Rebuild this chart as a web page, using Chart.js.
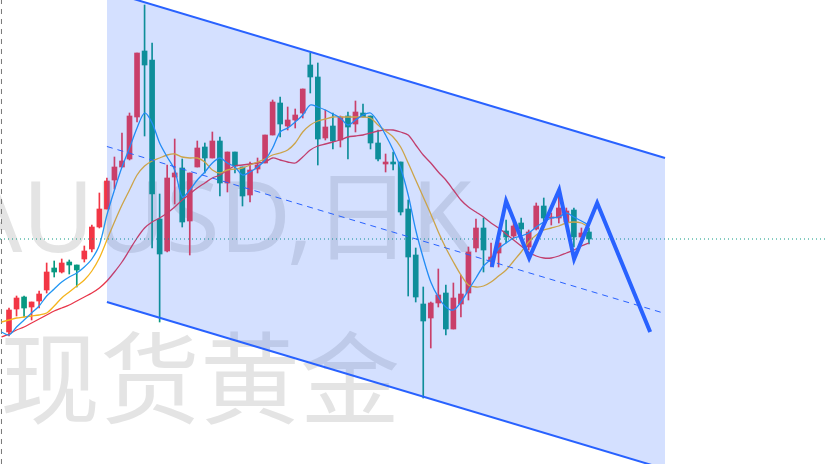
<!DOCTYPE html>
<html>
<head>
<meta charset="utf-8">
<script src="https://cdn.jsdelivr.net/npm/chart.js@4/dist/chart.umd.min.js"></script>
<style>
  html, body { margin: 0; padding: 0; background: #fff; }
  canvas { display: block; }
</style>
</head>
<body>
<canvas id="goldChart" width="825" height="464"></canvas>
<script>
// daily candles, spot gold (XAUUSD), index 0..77
const opens = [1914,1925.5,1931.5,1926.5,1929.5,1935,1946,1944,1949,1947.5,
    1950.5,1955.5,1966.5,1975.5,1990,1996.5,2000.5,2021.5,2054.5,2050,
    1970.5,1954.5,1991.5,1996,1969.5,1996.5,2006.5,2001,2009.5,1988.5,
    2004,1996.5,1982.5,1995.5,1998.5,2012.5,2028.5,2017,2020,2023.5,
    2047.5,2041.5,2011,2017,2010,2022,2018,2023.5,2022,2008.5,
    1998,1999,1999,1975.5,1952.5,1928,1921,1928.5,1933.5,1915.5,
    1928,1933.5,1956,1966,1949.5,1953.5,1964.5,1962,1968.5,1956.5,
    1965.5,1977,1971,1971,1969,1975,1961.5,1964];
const highs = [1926,1932,1932,1929,1934.5,1948.5,1949.5,1950.5,1950,1947.5,
    1957,1967.5,1983.5,1991,2001.5,2013.5,2023.5,2053.5,2077.5,2058.5,
    1983,1997.5,2010.5,2000.5,1993.5,2009.5,2008.5,2014,2011.5,2004,
    2004,1996.5,1999,2001,2012.5,2030,2031.5,2026.5,2025.5,2035.5,
    2053.5,2048.5,2025,2023.5,2022,2024,2029.5,2028,2022,2015,
    2003,2004,1999,1980,1956,1936.5,1929,1945.5,1937.5,1938.5,
    1942.5,1956.5,1970.5,1971,1958.5,1961,1970,1969,1971,1965,
    1978.5,1981,1973.5,1983.5,1976,1976,1966,1966];
const lows = [1912,1922,1921.5,1920,1926,1933.5,1941.5,1943.5,1943,1936.5,
    1949,1954,1966,1975.5,1985.5,1996.5,2000,2019,2012,1956,
    1919,1954,1978,1966.5,1952.5,1996.5,1993.5,2001,1982,1984,
    1993.5,1977,1979,1993.5,1998.5,2012.5,2011.5,2015,2016,2021,
    2033.5,1997.5,2010,2005.5,2006.5,2000.5,2014,2021.5,2005.5,1999.5,
    1994,1995,1972.5,1932,1929,1881,1906,1926.5,1912.5,1915.5,
    1921.5,1930,1954,1944,1946.5,1946.5,1958.5,1961,1962.5,1955,
    1965,1968.5,1967.5,1968.5,1967.5,1956.5,1960,1958];
const closes = [1925,1931,1926,1929,1933,1944,1944,1948.5,1947.5,1945,
    1954.5,1966.5,1975.5,1989.5,1996.5,1999.5,2022,2053.5,2047.5,1983,
    1953,1991,1993.5,1969,1993.5,2006,2001,2009.5,1988.5,2004,
    1997,1982,1995,1997.5,2012.5,2029,2018,2020,2022.5,2035.5,
    2041.5,2010.5,2016.5,2009.5,2021.5,2016.5,2024,2021.5,2008.5,2000.5,
    1999,1998,1974,1951.5,1931.5,1919.5,1928.5,1932.5,1915.5,1931,
    1933,1954,1966,1955,1951.5,1958.5,1961.5,1967,1965.5,1964,
    1977,1971,1971.5,1976,1974.5,1961.5,1963.5,1960.5];

// moving averages, starting at index -1
const maStart = -1;
const maFast = [1914,1912.5,1916.5,1920,1923.5,1927,1932,1935.5,1939,1941.5,
    1943.5,1946.5,1950.5,1957.5,1972.5,1985,1996.5,2006,2016,2023.5,
    2018.5,2008.5,2001.5,1995,1981.5,1985,1990,1994,1998.5,2001,
    1998.5,1996.5,1992.5,1994,1996.5,2000,2006,2014,2016,2019,
    2022.5,2027.5,2026.5,2025,2023,2021,2017.5,2020,2022.5,2023.5,
    2019,2012.5,2005,1996,1982.5,1965,1951,1939,1931.5,1926.5,
    1925,1929,1935,1941,1947,1950.5,1955.5,1958.5,1961,1962,
    1963.5,1966.5,1969,1971,1971.5,1973.5,1971.5,1969.5,1967.5];
const maMid = [1919,1920,1921,1921.5,1922,1922.5,1923.5,1927,1931,1934,
    1937,1940,1944.5,1951,1960,1969,1977.5,1985,1992.5,1997,
    1999.5,2001,2002.5,2003,2001.5,2001,2001,1999,1995,1993.5,
    1995,1995.5,1996,1997.5,1999,2000.5,2002.5,2003.5,2005,2008.5,
    2014,2017.5,2019.5,2020.5,2021.5,2021.5,2021.5,2021.5,2021.5,2021,
    2017.5,2014.5,2011.5,2006.5,1998.5,1990,1981.5,1973,1964,1956,
    1949,1942.5,1937.5,1936.5,1937,1939,1942,1945,1949.5,1954,
    1959,1962.5,1965,1966,1967,1968.5,1969,1968.5,1966.5];
const maSlow = [1911.5,1913,1915,1916.5,1918.5,1920.5,1922.5,1924.5,1926,1927.5,
    1929.5,1931.5,1933.5,1936,1939.5,1944,1949,1955,1961,1966,
    1969,1971,1973.5,1976.5,1980,1983,1986,1988.5,1991,1992.5,
    1995,1997,1997.5,1998,1998.5,1999,2001,2000,1999,1998.5,
    2001.5,2005,2007,2008,2009,2010,2011.5,2012,2012.5,2013.5,
    2014.5,2015,2015,2014,2012.5,2007.5,2002.5,1998.5,1994,1990,
    1985,1980,1976.5,1974,1971.5,1968.5,1966,1963,1960,1957,
    1954,1952,1951,1951,1952,1953.5,1955,1957,1958.5];

// drawings: parallel channel and zigzag (bar index / price)
const channelX = [13, 87.1];
const channelUpper = [2084.5, 2001];
const channelLower = [1929, 1845.5];
const channelMid = [2006.75, 1923.25];
const zigzagX = [64.1, 66.0, 69.06, 73.04, 75.03, 78.09, 85.13];
const zigzagY = [1946.5, 1979.5, 1951, 1985, 1950.5, 1978.5, 1914];
const separatorX = -1;

const UP = '#f23645', DOWN = '#089981', TOOL = '#2962ff';
const idx = opens.map((_, i) => i);
const candleColors = idx.map(i => closes[i] >= opens[i] ? UP : DOWN);
const lastClose = closes[closes.length - 1];

const xMin = -1.195, xMax = 108.34, yMin = 1848, yMax = 2080;

function maPoints(arr) {
    return arr.map((v, k) => ({ x: maStart + k, y: v }));
}
function pairPoints(xs, ys) {
    return xs.map((x, k) => ({ x: x, y: ys[k] }));
}

const watermark = {
    id: 'watermark',
    beforeDraw(chart) {
        const c = chart.ctx;
        c.save();
        c.fillStyle = '#fff';
        c.fillRect(0, 0, chart.width, chart.height);
        c.fillStyle = 'rgba(120,120,120,0.2)';
        c.font = '98px "Noto Sans", "Noto Sans CJK SC"';
        c.textAlign = 'right';
        c.textBaseline = 'alphabetic';
        c.fillText('XAUUSD,日K', 472, 252);
        c.textAlign = 'left';
        c.textBaseline = 'middle';
        c.font = '100px "Noto Sans CJK SC"';
        c.fillText('现货黄金', 0, 378);
        c.restore();
    }
};

new Chart(document.getElementById('goldChart'), {
    type: 'bar',
    data: {
        datasets: [
            { type: 'line', order: 0, data: pairPoints(zigzagX, zigzagY), borderColor: TOOL, borderWidth: 4, borderJoinStyle: 'miter', pointRadius: 0, fill: false },
            { type: 'line', order: 1, data: pairPoints(channelX, channelMid), borderColor: TOOL, borderWidth: 1, borderDash: [6, 5], pointRadius: 0, fill: false },
            { type: 'line', order: 2, data: pairPoints(channelX, channelUpper), borderColor: TOOL, borderWidth: 2, pointRadius: 0, fill: { target: 3 }, backgroundColor: 'rgba(41,98,255,0.2)' },
            { type: 'line', order: 3, data: pairPoints(channelX, channelLower), borderColor: TOOL, borderWidth: 2, pointRadius: 0, fill: false },
            { type: 'line', order: 4, data: [{ x: xMin, y: lastClose }, { x: xMax, y: lastClose }], borderColor: DOWN, borderWidth: 1, borderDash: [1, 3], pointRadius: 0, fill: false },
            { type: 'line', order: 5, data: maPoints(maFast), borderColor: '#2196f3', borderWidth: 1.3, pointRadius: 0, tension: 0.3, fill: false },
            { type: 'line', order: 6, data: maPoints(maMid), borderColor: '#f5b41c', borderWidth: 1.3, pointRadius: 0, tension: 0.3, fill: false },
            { type: 'line', order: 7, data: maPoints(maSlow), borderColor: '#e8364a', borderWidth: 1.3, pointRadius: 0, tension: 0.3, fill: false },
            { type: 'line', order: 8, data: [{ x: separatorX, y: yMin }, { x: separatorX, y: yMax }], borderColor: '#777', borderWidth: 1, borderDash: [5, 5], pointRadius: 0, fill: false },
            { order: 9, data: idx.map(i => ({ x: i, y: [opens[i], closes[i]] })), backgroundColor: candleColors, barThickness: 5, minBarLength: 1, grouped: false },
            { order: 10, data: idx.map(i => ({ x: i, y: [lows[i], highs[i]] })), backgroundColor: candleColors, barThickness: 1, grouped: false }
        ]
    },
    options: {
        responsive: false,
        animation: false,
        devicePixelRatio: 1,
        layout: { padding: 0 },
        plugins: { legend: { display: false }, tooltip: { enabled: false } },
        scales: {
            x: { type: 'linear', min: xMin, max: xMax, offset: false, display: false },
            y: { min: yMin, max: yMax, display: false }
        }
    },
    plugins: [watermark]
});
</script>
</body>
</html>
